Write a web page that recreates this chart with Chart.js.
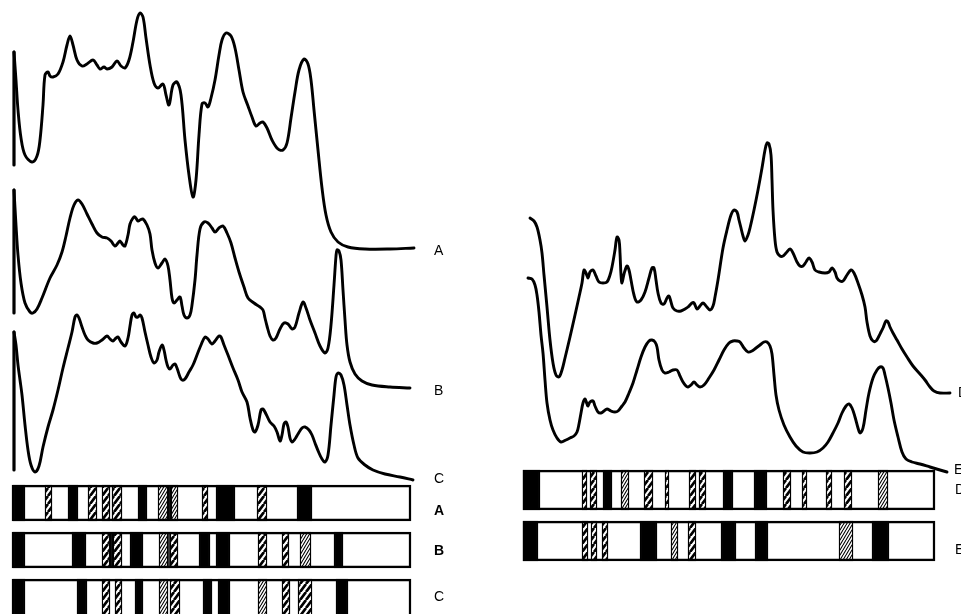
<!DOCTYPE html>
<html>
<head>
<meta charset="utf-8">
<script src="https://cdn.jsdelivr.net/npm/chart.js@4.4.0/dist/chart.umd.min.js"></script>
<style>
  html, body { margin: 0; padding: 0; background: #fff; }
  #wrap { width: 961px; height: 614px; position: relative; }
</style>
</head>
<body>
<div id="wrap"><canvas id="densChart"></canvas></div>
<script>
// densitometer traces: [migration, offset density]
const spikeA = [[14,165],[14,52]];
const spikeB = [[14,313],[14,190]];
const spikeC = [[14,470],[14,332]];

const traceA = [[14,52],[16,80],[18,110],[21,138],[25,155],[32,162],[37,156],[40,140],[43,105],[45,75],[48,72],[50,76],[53,77],[58,74],[63,62],[67,45],[70,36],[73,45],[77,60],[82,66],[87,64],[93,60],[97,65],[100,69],[104,67],[107,69],[112,67],[117,61],[121,66],[125,68],[129,60],[133,42],[137,20],[140,13],[143,17],[146,38],[150,65],[154,83],[158,88],[163,84],[166,95],[169,105],[173,85],[177,82],[181,95],[185,140],[189,175],[193,197],[196,180],[199,135],[202,104],[205,103],[208,107],[211,98],[215,80],[219,55],[222,40],[226,33],[231,36],[235,48],[239,70],[243,92],[248,106],[252,117],[256,126],[260,123],[263,122],[267,128],[272,140],[278,149],[283,150],[287,143],[291,118],[295,92],[299,70],[304,59],[308,64],[311,80],[314,110],[318,150],[322,188],[326,215],[331,232],[338,242],[348,247],[365,249],[390,249],[414,248]];

const traceB = [[14,190],[16,225],[18,255],[21,283],[25,303],[30,312],[33,313],[37,309],[42,298],[50,278],[57,265],[62,252],[66,236],[70,218],[74,205],[78,200],[82,204],[87,214],[92,224],[97,233],[102,237],[107,238],[111,241],[115,246],[118,243],[120,241],[123,245],[125,246],[128,235],[130,224],[133,218],[135,217],[138,221],[140,220],[143,219],[147,225],[150,234],[152,250],[155,263],[158,268],[162,263],[165,259],[168,266],[170,280],[172,298],[174,303],[177,300],[180,297],[182,306],[184,315],[187,318],[190,315],[192,305],[195,280],[197,255],[200,229],[204,222],[208,223],[212,228],[215,232],[219,228],[223,226],[227,233],[231,243],[235,258],[239,272],[244,287],[248,298],[254,303],[260,307],[263,310],[265,318],[267,326],[270,336],[273,340],[276,338],[280,329],[284,323],[288,324],[292,329],[295,327],[299,313],[303,302],[306,308],[310,320],[315,333],[320,346],[325,353],[328,348],[331,325],[334,285],[336,256],[337,250],[339,251],[341,260],[343,290],[345,320],[347,345],[350,362],[355,374],[362,381],[372,385],[390,387],[410,388]];

const traceC = [[14,332],[16,345],[18,365],[20,380],[22,395],[25,425],[28,450],[31,465],[35,472],[39,466],[43,447],[48,427],[53,410],[58,390],[63,368],[68,348],[72,332],[75,317],[77,315],[79,318],[82,327],[85,335],[88,340],[93,343],[97,343],[102,340],[107,336],[110,339],[113,341],[116,338],[118,337],[121,342],[125,346],[128,338],[130,326],[132,315],[134,313],[136,317],[138,317],[140,315],[142,318],[145,332],[148,345],[151,357],[154,363],[157,360],[159,352],[162,345],[164,350],[166,360],[168,367],[170,369],[173,365],[175,364],[177,368],[180,377],[182,380],[185,379],[189,372],[193,365],[197,355],[201,345],[205,337],[208,339],[212,344],[215,341],[219,336],[221,337],[224,345],[228,355],[233,368],[238,380],[242,392],[247,402],[250,418],[253,430],[255,432],[258,425],[261,410],[263,409],[266,414],[270,422],[274,426],[277,432],[280,441],[282,435],[284,424],[286,422],[288,427],[290,438],[292,442],[295,439],[298,434],[302,428],[305,427],[309,430],[312,435],[315,443],[319,453],[322,459],[325,462],[328,455],[331,425],[334,395],[336,377],[338,373],[341,375],[344,385],[347,405],[350,425],[354,445],[358,458],[365,465],[373,470],[385,474],[400,477],[413,480]];

const traceD = [[530,218],[534,221],[537,227],[540,240],[542,253],[544,275],[547,307],[550,340],[553,363],[556,375],[559,377],[562,370],[565,358],[570,337],[575,315],[579,297],[582,283],[584,270],[586,273],[588,278],[590,272],[593,270],[596,276],[599,282],[603,283],[607,282],[610,275],[612,267],[615,250],[617,237],[619,240],[620,253],[621,275],[622,283],[624,274],[627,266],[629,270],[631,280],[634,295],[637,302],[641,300],[645,292],[649,278],[652,268],[654,268],[656,280],[658,293],[661,303],[664,304],[667,298],[669,296],[671,302],[673,308],[677,311],[681,311],[685,309],[688,307],[692,303],[694,303],[697,309],[700,306],[703,303],[706,306],[710,310],[713,306],[715,297],[718,280],[723,248],[727,230],[731,215],[734,210],[737,212],[739,220],[741,228],[743,236],[745,241],[748,235],[750,228],[754,210],[758,190],[762,168],[765,150],[767,143],[769,144],[771,155],[772,180],[773,210],[775,240],[777,252],[780,256],[783,256],[786,253],[790,249],[793,253],[797,262],[800,266],[803,266],[806,262],[809,258],[812,262],[815,270],[819,272],[825,273],[829,272],[832,268],[835,272],[837,278],[840,281],[843,281],[847,275],[851,270],[854,273],[858,283],[862,295],[865,307],[867,322],[870,336],[873,341],[876,341],[879,336],[881,332],[883,328],[886,321],[888,322],[890,327],[893,333],[897,340],[902,349],[907,357],[913,366],[920,374],[925,380],[930,387],[934,391],[940,393],[950,393]];

const traceE = [[528,278],[532,279],[535,285],[537,295],[539,312],[541,335],[543,353],[545,380],[547,403],[550,420],[553,430],[557,438],[561,442],[566,440],[570,438],[574,436],[577,432],[579,424],[581,413],[583,403],[585,399],[587,404],[588,406],[590,402],[593,401],[595,406],[598,412],[601,413],[604,411],[607,409],[611,411],[615,412],[618,411],[622,406],[625,402],[629,393],[633,383],[637,370],[641,357],[645,347],[649,341],[652,340],[655,342],[657,347],[659,360],[662,370],[665,373],[669,372],[673,370],[677,370],[680,376],[683,382],[686,386],[688,387],[691,385],[694,382],[697,385],[700,387],[704,385],[709,378],[714,370],[719,360],[724,350],[729,343],[733,341],[737,341],[740,342],[744,348],[748,352],[752,351],[756,348],[760,345],[764,342],[767,342],[770,346],[772,354],[774,375],[776,395],[779,410],[784,425],[790,437],[796,446],[803,452],[810,453],[817,452],[823,448],[828,442],[833,433],[838,423],[842,413],[846,406],[849,404],[852,408],[855,417],[858,428],[860,433],[863,428],[866,410],[869,393],[873,378],[877,370],[880,367],[883,368],[885,375],[888,388],[891,403],[894,420],[898,437],[902,452],[906,459],[912,462],[920,464],[930,467],[940,470],[947,472]];

// gel strips: [from, to, kind]  k = solid band, h = hatched band, d = fine hatched band
const bandsA = [[13,25,'k'],[45,52,'h'],[68,78,'k'],[88,97,'h'],[102,110,'h'],[112,122,'h'],[138,147,'k'],[158,168,'d'],[168,171,'k'],[171,178,'d'],[202,208,'h'],[216,235,'k'],[257,267,'h'],[297,312,'k']];
const bandsB = [[13,25,'k'],[72,86,'k'],[102,110,'h'],[110,113,'k'],[113,122,'h'],[130,143,'k'],[159,168,'d'],[168,170,'k'],[170,178,'h'],[199,210,'k'],[216,230,'k'],[258,267,'h'],[282,289,'h'],[300,311,'d'],[334,343,'k']];
const bandsC = [[13,25,'k'],[77,87,'k'],[102,110,'h'],[115,122,'h'],[135,143,'k'],[159,168,'d'],[170,180,'h'],[203,212,'k'],[218,230,'k'],[258,267,'d'],[282,290,'h'],[298,312,'h'],[336,348,'k']];
const bandsD = [[523,540,'k'],[582,587,'h'],[590,597,'h'],[603,612,'k'],[621,629,'d'],[644,653,'h'],[665,669,'h'],[689,696,'h'],[699,706,'h'],[723,733,'k'],[754,767,'k'],[783,791,'h'],[802,807,'h'],[826,832,'h'],[844,852,'h'],[878,888,'d']];
const bandsE = [[523,538,'k'],[582,588,'h'],[591,597,'h'],[602,608,'h'],[640,657,'k'],[671,678,'d'],[688,696,'h'],[721,736,'k'],[755,768,'k'],[839,853,'d'],[872,889,'k']];

// strip lanes: [row centre, height, from, to]
const stripA = [503, 36, 12, 411];
const stripB = [550, 36, 12, 411];
const stripC = [600, 42, 12, 411];
const stripD = [490, 40, 523, 935];
const stripE = [541, 40, 523, 935];

const laneLabels = [['A',434,251,false],['B',434,391,false],['C',434,479,false],['A',434,511,true],['B',434,551,true],['C',434,597,false],['D',958,393,false],['E',954,470,false],['D',955,490,false],['E',955,550,false]];

function hatch(w, h, lw) {
  const c = document.createElement('canvas');
  c.width = w; c.height = h;
  const g = c.getContext('2d');
  g.fillStyle = '#fff';
  g.fillRect(0, 0, w, h);
  g.strokeStyle = '#000';
  g.lineWidth = lw;
  g.beginPath();
  for (let k = -1; k <= 1; k++) {
    g.moveTo(k * w, h);
    g.lineTo(k * w + w, 0);
  }
  g.stroke();
  return g.createPattern(c, 'repeat');
}
const fills = { k: '#000', h: hatch(6, 8, 2.7), d: hatch(3, 5, 1.1) };

const toXY = arr => arr.map(p => ({ x: p[0], y: p[1] }));

function traceSet(arr, width, tension) {
  return {
    type: 'line', data: toXY(arr), borderColor: '#000', borderWidth: width,
    pointRadius: 0, tension: tension, fill: false, order: 1,
    borderCapStyle: 'round', borderJoinStyle: 'round'
  };
}

function stripSets(strip, bands) {
  return [
    {
      type: 'bar', indexAxis: 'y', grouped: false, order: 2,
      data: bands.map(b => ({ y: strip[0], x: [b[0], b[1]] })),
      backgroundColor: bands.map(b => fills[b[2]]),
      borderColor: '#000', borderWidth: 1.4, borderSkipped: false,
      barThickness: strip[1]
    },
    {
      type: 'bar', indexAxis: 'y', grouped: false, order: 0,
      data: [{ y: strip[0], x: [strip[2], strip[3]] }],
      backgroundColor: 'rgba(0,0,0,0)',
      borderColor: '#000', borderWidth: 1.8, borderSkipped: false,
      barThickness: strip[1]
    }
  ];
}

const labelPlugin = {
  id: 'laneLabels',
  afterDraw(chart) {
    const { ctx, scales: { x, y } } = chart;
    ctx.save();
    ctx.fillStyle = '#000';
    ctx.textAlign = 'left';
    ctx.textBaseline = 'middle';
    laneLabels.forEach(l => {
      ctx.font = (l[3] ? 'bold ' : '') + '14px "Liberation Sans", Arial, sans-serif';
      ctx.fillText(l[0], x.getPixelForValue(l[1]), y.getPixelForValue(l[2]));
    });
    ctx.restore();
  }
};

const datasets = [
  traceSet(spikeA, 3.2, 0), traceSet(spikeB, 3.2, 0), traceSet(spikeC, 3.2, 0),
  traceSet(traceA, 2.9, 0.35), traceSet(traceB, 2.9, 0.35), traceSet(traceC, 2.9, 0.35),
  traceSet(traceD, 2.9, 0.35), traceSet(traceE, 2.9, 0.35),
  ...stripSets(stripA, bandsA), ...stripSets(stripB, bandsB), ...stripSets(stripC, bandsC),
  ...stripSets(stripD, bandsD), ...stripSets(stripE, bandsE)
];

new Chart(document.getElementById('densChart'), {
  type: 'line',
  data: { datasets: datasets },
  options: {
    responsive: true,
    maintainAspectRatio: false,
    animation: false,
    layout: { padding: 0 },
    plugins: { legend: { display: false }, tooltip: { enabled: false } },
    scales: {
      x: { type: 'linear', min: 0, max: 961, display: false, offset: false },
      y: { type: 'linear', min: 0, max: 614, reverse: true, display: false, offset: false }
    }
  },
  plugins: [labelPlugin]
});
</script>
</body>
</html>
